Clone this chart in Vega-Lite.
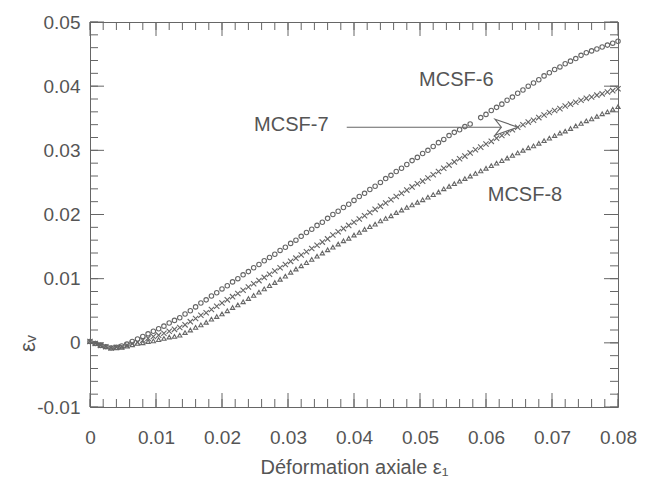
{
  "$schema": "https://vega.github.io/schema/vega-lite/v6.json",
  "width": 528,
  "height": 385,
  "autosize": {"type": "none"},
  "padding": {"left": 90, "top": 22, "right": 28, "bottom": 83},
  "background": "white",
  "config": {
    "font": "Liberation Sans",
    "view": {"stroke": "#666666", "strokeWidth": 1},
    "axis": {
      "domain": false,
      "grid": false,
      "ticks": false,
      "tickSize": 0,
      "labelColor": "#555555",
      "titleColor": "#555555",
      "labelFont": "Liberation Sans",
      "titleFont": "Liberation Sans",
      "labelFontSize": 19,
      "titleFontSize": 20,
      "titleFontWeight": "normal"
    }
  },
  "datasets": {
    "curves": [
      {"e": 0, "a": 0.0002, "b": 0.0002, "c": 0.0002},
      {"e": 0.0008, "a": -0.0001, "b": -0.0001, "c": -0.0001},
      {"e": 0.0016, "a": -0.0004, "b": -0.0004, "c": -0.0004},
      {"e": 0.0024, "a": -0.0006, "b": -0.0006, "c": -0.0006},
      {"e": 0.0032, "a": -0.0008, "b": -0.0008, "c": -0.0008},
      {"e": 0.004, "a": -0.0007, "b": -0.0007, "c": -0.0008},
      {"e": 0.0048, "a": -0.0005, "b": -0.0006, "c": -0.0007},
      {"e": 0.0056, "a": -0.0002, "b": -0.0004, "c": -0.0005},
      {"e": 0.0064, "a": 0.0002, "b": -0.0001, "c": -0.0003},
      {"e": 0.0072, "a": 0.0006, "b": 0.0001, "c": -0.0001},
      {"e": 0.008, "a": 0.001, "b": 0.0004, "c": 0},
      {"e": 0.0088, "a": 0.0014, "b": 0.0007, "c": 0.0002},
      {"e": 0.0096, "a": 0.0018, "b": 0.001, "c": 0.0003},
      {"e": 0.0104, "a": 0.0022, "b": 0.0012, "c": 0.0005},
      {"e": 0.0112, "a": 0.0026, "b": 0.0015, "c": 0.0007},
      {"e": 0.012, "a": 0.0031, "b": 0.0018, "c": 0.0009},
      {"e": 0.0128, "a": 0.0035, "b": 0.0021, "c": 0.001},
      {"e": 0.0136, "a": 0.0039, "b": 0.0024, "c": 0.0012},
      {"e": 0.0144, "a": 0.0045, "b": 0.0028, "c": 0.0016},
      {"e": 0.0152, "a": 0.005, "b": 0.0033, "c": 0.002},
      {"e": 0.016, "a": 0.0056, "b": 0.0038, "c": 0.0024},
      {"e": 0.0168, "a": 0.0062, "b": 0.0043, "c": 0.0028},
      {"e": 0.0176, "a": 0.0067, "b": 0.0047, "c": 0.0032},
      {"e": 0.0184, "a": 0.0073, "b": 0.0052, "c": 0.0037},
      {"e": 0.0192, "a": 0.0078, "b": 0.0057, "c": 0.0041},
      {"e": 0.02, "a": 0.0084, "b": 0.0062, "c": 0.0045},
      {"e": 0.0208, "a": 0.0089, "b": 0.0067, "c": 0.005},
      {"e": 0.0216, "a": 0.0095, "b": 0.0072, "c": 0.0055},
      {"e": 0.0224, "a": 0.01, "b": 0.0077, "c": 0.0059},
      {"e": 0.0232, "a": 0.0106, "b": 0.0082, "c": 0.0064},
      {"e": 0.024, "a": 0.0111, "b": 0.0087, "c": 0.0069},
      {"e": 0.0248, "a": 0.0117, "b": 0.0092, "c": 0.0074},
      {"e": 0.0256, "a": 0.0122, "b": 0.0097, "c": 0.0079},
      {"e": 0.0264, "a": 0.0128, "b": 0.0102, "c": 0.0084},
      {"e": 0.0272, "a": 0.0133, "b": 0.0107, "c": 0.0089},
      {"e": 0.028, "a": 0.0138, "b": 0.0112, "c": 0.0094},
      {"e": 0.0288, "a": 0.0144, "b": 0.0117, "c": 0.0099},
      {"e": 0.0296, "a": 0.0149, "b": 0.0122, "c": 0.0104},
      {"e": 0.0304, "a": 0.0155, "b": 0.0127, "c": 0.011},
      {"e": 0.0312, "a": 0.016, "b": 0.0132, "c": 0.0115},
      {"e": 0.032, "a": 0.0166, "b": 0.0137, "c": 0.012},
      {"e": 0.0328, "a": 0.0172, "b": 0.0142, "c": 0.0125},
      {"e": 0.0336, "a": 0.0177, "b": 0.0147, "c": 0.013},
      {"e": 0.0344, "a": 0.0183, "b": 0.0152, "c": 0.0135},
      {"e": 0.0352, "a": 0.0188, "b": 0.0157, "c": 0.014},
      {"e": 0.036, "a": 0.0194, "b": 0.0162, "c": 0.0145},
      {"e": 0.0368, "a": 0.02, "b": 0.0168, "c": 0.0149},
      {"e": 0.0376, "a": 0.0205, "b": 0.0173, "c": 0.0154},
      {"e": 0.0384, "a": 0.0211, "b": 0.0178, "c": 0.0159},
      {"e": 0.0392, "a": 0.0216, "b": 0.0183, "c": 0.0163},
      {"e": 0.04, "a": 0.0222, "b": 0.0188, "c": 0.0168},
      {"e": 0.0408, "a": 0.0228, "b": 0.0193, "c": 0.0172},
      {"e": 0.0416, "a": 0.0233, "b": 0.0198, "c": 0.0177},
      {"e": 0.0424, "a": 0.0239, "b": 0.0203, "c": 0.0181},
      {"e": 0.0432, "a": 0.0244, "b": 0.0208, "c": 0.0185},
      {"e": 0.044, "a": 0.025, "b": 0.0213, "c": 0.019},
      {"e": 0.0448, "a": 0.0256, "b": 0.0218, "c": 0.0194},
      {"e": 0.0456, "a": 0.0261, "b": 0.0223, "c": 0.0198},
      {"e": 0.0464, "a": 0.0267, "b": 0.0228, "c": 0.0203},
      {"e": 0.0472, "a": 0.0272, "b": 0.0233, "c": 0.0207},
      {"e": 0.048, "a": 0.0278, "b": 0.0238, "c": 0.0211},
      {"e": 0.0488, "a": 0.0284, "b": 0.0243, "c": 0.0215},
      {"e": 0.0496, "a": 0.0289, "b": 0.0248, "c": 0.0219},
      {"e": 0.0504, "a": 0.0295, "b": 0.0252, "c": 0.0223},
      {"e": 0.0512, "a": 0.03, "b": 0.0257, "c": 0.0227},
      {"e": 0.052, "a": 0.0306, "b": 0.0262, "c": 0.0231},
      {"e": 0.0528, "a": 0.0312, "b": 0.0267, "c": 0.0235},
      {"e": 0.0536, "a": 0.0317, "b": 0.0272, "c": 0.024},
      {"e": 0.0544, "a": 0.0323, "b": 0.0277, "c": 0.0244},
      {"e": 0.0552, "a": 0.0328, "b": 0.0282, "c": 0.0248},
      {"e": 0.056, "a": 0.0332, "b": 0.0287, "c": 0.0252},
      {"e": 0.0568, "a": 0.0337, "b": 0.0291, "c": 0.0256},
      {"e": 0.0576, "a": 0.0341, "b": 0.0296, "c": 0.026},
      {"e": 0.0584, "a": null, "b": 0.0301, "c": 0.0264},
      {"e": 0.0592, "a": 0.0351, "b": 0.0305, "c": 0.0268},
      {"e": 0.06, "a": 0.0356, "b": 0.031, "c": 0.0272},
      {"e": 0.0608, "a": 0.0362, "b": 0.0314, "c": 0.0276},
      {"e": 0.0616, "a": 0.0367, "b": 0.0319, "c": 0.028},
      {"e": 0.0624, "a": 0.0372, "b": 0.0323, "c": 0.0284},
      {"e": 0.0632, "a": 0.0378, "b": 0.0327, "c": 0.0288},
      {"e": 0.064, "a": 0.0383, "b": 0.0332, "c": 0.0292},
      {"e": 0.0648, "a": 0.0389, "b": 0.0336, "c": 0.0296},
      {"e": 0.0656, "a": 0.0394, "b": 0.034, "c": 0.03},
      {"e": 0.0664, "a": 0.04, "b": 0.0344, "c": 0.0304},
      {"e": 0.0672, "a": 0.0405, "b": 0.0347, "c": 0.0307},
      {"e": 0.068, "a": 0.041, "b": 0.0351, "c": 0.0311},
      {"e": 0.0688, "a": 0.0416, "b": 0.0355, "c": 0.0315},
      {"e": 0.0696, "a": 0.0421, "b": 0.0359, "c": 0.0319},
      {"e": 0.0704, "a": 0.0426, "b": 0.0362, "c": 0.0323},
      {"e": 0.0712, "a": 0.043, "b": 0.0365, "c": 0.0327},
      {"e": 0.072, "a": 0.0435, "b": 0.0369, "c": 0.033},
      {"e": 0.0728, "a": 0.0439, "b": 0.0372, "c": 0.0334},
      {"e": 0.0736, "a": 0.0443, "b": 0.0375, "c": 0.0338},
      {"e": 0.0744, "a": 0.0448, "b": 0.0378, "c": 0.0342},
      {"e": 0.0752, "a": 0.0452, "b": 0.0381, "c": 0.0346},
      {"e": 0.076, "a": 0.0455, "b": 0.0383, "c": 0.0349},
      {"e": 0.0768, "a": 0.0458, "b": 0.0386, "c": 0.0353},
      {"e": 0.0776, "a": 0.0461, "b": 0.0388, "c": 0.0357},
      {"e": 0.0784, "a": 0.0464, "b": 0.0391, "c": 0.036},
      {"e": 0.0792, "a": 0.0467, "b": 0.0393, "c": 0.0364},
      {"e": 0.08, "a": 0.047, "b": 0.0396, "c": 0.0368}
    ],
    "labels": [
      {"x": 0.0555, "y": 0.041, "t": "MCSF-6"},
      {"x": 0.0305, "y": 0.034, "t": "MCSF-7"},
      {"x": 0.0659, "y": 0.0231, "t": "MCSF-8"}
    ],
    "arrow": [
      {"x1": 0.0389, "x2": 0.0631, "y": 0.0336}
    ],
    "xt": [
      {"v": 0, "m": 1}, {"v": 0.002, "m": 0}, {"v": 0.004, "m": 0}, {"v": 0.006, "m": 0}, {"v": 0.008, "m": 0},
      {"v": 0.01, "m": 1}, {"v": 0.012, "m": 0}, {"v": 0.014, "m": 0}, {"v": 0.016, "m": 0}, {"v": 0.018, "m": 0},
      {"v": 0.02, "m": 1}, {"v": 0.022, "m": 0}, {"v": 0.024, "m": 0}, {"v": 0.026, "m": 0}, {"v": 0.028, "m": 0},
      {"v": 0.03, "m": 1}, {"v": 0.032, "m": 0}, {"v": 0.034, "m": 0}, {"v": 0.036, "m": 0}, {"v": 0.038, "m": 0},
      {"v": 0.04, "m": 1}, {"v": 0.042, "m": 0}, {"v": 0.044, "m": 0}, {"v": 0.046, "m": 0}, {"v": 0.048, "m": 0},
      {"v": 0.05, "m": 1}, {"v": 0.052, "m": 0}, {"v": 0.054, "m": 0}, {"v": 0.056, "m": 0}, {"v": 0.058, "m": 0},
      {"v": 0.06, "m": 1}, {"v": 0.062, "m": 0}, {"v": 0.064, "m": 0}, {"v": 0.066, "m": 0}, {"v": 0.068, "m": 0},
      {"v": 0.07, "m": 1}, {"v": 0.072, "m": 0}, {"v": 0.074, "m": 0}, {"v": 0.076, "m": 0}, {"v": 0.078, "m": 0},
      {"v": 0.08, "m": 1}
    ],
    "yt": [
      {"v": -0.01, "m": 1}, {"v": -0.008, "m": 0}, {"v": -0.006, "m": 0}, {"v": -0.004, "m": 0}, {"v": -0.002, "m": 0},
      {"v": 0, "m": 1}, {"v": 0.002, "m": 0}, {"v": 0.004, "m": 0}, {"v": 0.006, "m": 0}, {"v": 0.008, "m": 0},
      {"v": 0.01, "m": 1}, {"v": 0.012, "m": 0}, {"v": 0.014, "m": 0}, {"v": 0.016, "m": 0}, {"v": 0.018, "m": 0},
      {"v": 0.02, "m": 1}, {"v": 0.022, "m": 0}, {"v": 0.024, "m": 0}, {"v": 0.026, "m": 0}, {"v": 0.028, "m": 0},
      {"v": 0.03, "m": 1}, {"v": 0.032, "m": 0}, {"v": 0.034, "m": 0}, {"v": 0.036, "m": 0}, {"v": 0.038, "m": 0},
      {"v": 0.04, "m": 1}, {"v": 0.042, "m": 0}, {"v": 0.044, "m": 0}, {"v": 0.046, "m": 0}, {"v": 0.048, "m": 0},
      {"v": 0.05, "m": 1}
    ]
  },
  "resolve": {"axis": {"x": "independent", "y": "independent"}},
  "layer": [
    {
      "data": {"name": "curves"},
      "mark": {"type": "point", "shape": "circle", "filled": false, "stroke": "#666666", "strokeWidth": 1.1, "size": 20, "opacity": 1},
      "encoding": {
        "x": {
          "field": "e", "type": "quantitative",
          "scale": {"domain": [0, 0.08], "nice": false, "zero": false},
          "axis": {
            "orient": "bottom",
            "values": [0, 0.01, 0.02, 0.03, 0.04, 0.05, 0.06, 0.07, 0.08],
            "labelExpr": "datum.value == 0 ? '0' : format(datum.value, '.2f')",
            "labelPadding": 21,
            "labelFlush": false,
            "title": "Déformation axiale  ε₁",
            "titleX": 264,
            "titleY": 60,
            "titleAnchor": null,
            "titleBaseline": "middle",
            "titleAlign": "center"
          }
        },
        "y": {
          "field": "a", "type": "quantitative",
          "scale": {"domain": [-0.01, 0.05], "nice": false, "zero": false},
          "axis": {
            "orient": "left",
            "values": [-0.01, 0, 0.01, 0.02, 0.03, 0.04, 0.05],
            "labelExpr": "datum.value == 0 ? '0' : (datum.value < 0 ? '-' : '') + format(abs(datum.value), '.2f')",
            "labelPadding": 10,
            "labelFlush": false,
            "title": "εᵥ",
            "titleFontSize": 22,
            "titleX": -63,
            "titleY": 321,
            "titleAngle": -90,
            "titleBaseline": "middle",
            "titleAlign": "center"
          }
        }
      }
    },
    {
      "data": {"name": "curves"},
      "mark": {"type": "point", "shape": "M-1,-1L1,1M-1,1L1,-1", "filled": false, "stroke": "#666666", "strokeWidth": 1.1, "size": 28, "opacity": 1},
      "encoding": {
        "x": {"field": "e", "type": "quantitative", "axis": null},
        "y": {"field": "b", "type": "quantitative", "axis": null}
      }
    },
    {
      "data": {"name": "curves"},
      "mark": {"type": "point", "shape": "triangle-up", "filled": false, "stroke": "#666666", "strokeWidth": 1.1, "size": 18, "opacity": 1},
      "encoding": {
        "x": {"field": "e", "type": "quantitative", "axis": null},
        "y": {"field": "c", "type": "quantitative", "axis": null}
      }
    },
    {
      "data": {"name": "xt"},
      "mark": {"type": "rule", "stroke": "#666666", "strokeWidth": 1, "y2Offset": -8},
      "encoding": {
        "x": {"field": "v", "type": "quantitative", "axis": null},
        "y": {"datum": -0.01, "type": "quantitative", "axis": null},
        "y2": {"datum": -0.01}
      }
    },
    {
      "data": {"name": "xt"},
      "transform": [{"filter": "datum.m == 1"}],
      "mark": {"type": "rule", "stroke": "#666666", "strokeWidth": 1, "y2Offset": -14},
      "encoding": {
        "x": {"field": "v", "type": "quantitative", "axis": null},
        "y": {"datum": -0.01, "type": "quantitative", "axis": null},
        "y2": {"datum": -0.01}
      }
    },
    {
      "data": {"name": "xt"},
      "mark": {"type": "rule", "stroke": "#666666", "strokeWidth": 1, "y2Offset": 8},
      "encoding": {
        "x": {"field": "v", "type": "quantitative", "axis": null},
        "y": {"datum": 0.05, "type": "quantitative", "axis": null},
        "y2": {"datum": 0.05}
      }
    },
    {
      "data": {"name": "xt"},
      "transform": [{"filter": "datum.m == 1"}],
      "mark": {"type": "rule", "stroke": "#666666", "strokeWidth": 1, "y2Offset": 14},
      "encoding": {
        "x": {"field": "v", "type": "quantitative", "axis": null},
        "y": {"datum": 0.05, "type": "quantitative", "axis": null},
        "y2": {"datum": 0.05}
      }
    },
    {
      "data": {"name": "yt"},
      "mark": {"type": "rule", "stroke": "#666666", "strokeWidth": 1, "x2Offset": 8},
      "encoding": {
        "y": {"field": "v", "type": "quantitative", "axis": null},
        "x": {"datum": 0, "type": "quantitative", "axis": null},
        "x2": {"datum": 0}
      }
    },
    {
      "data": {"name": "yt"},
      "transform": [{"filter": "datum.m == 1"}],
      "mark": {"type": "rule", "stroke": "#666666", "strokeWidth": 1, "x2Offset": 14},
      "encoding": {
        "y": {"field": "v", "type": "quantitative", "axis": null},
        "x": {"datum": 0, "type": "quantitative", "axis": null},
        "x2": {"datum": 0}
      }
    },
    {
      "data": {"name": "yt"},
      "mark": {"type": "rule", "stroke": "#666666", "strokeWidth": 1, "x2Offset": -8},
      "encoding": {
        "y": {"field": "v", "type": "quantitative", "axis": null},
        "x": {"datum": 0.08, "type": "quantitative", "axis": null},
        "x2": {"datum": 0.08}
      }
    },
    {
      "data": {"name": "yt"},
      "transform": [{"filter": "datum.m == 1"}],
      "mark": {"type": "rule", "stroke": "#666666", "strokeWidth": 1, "x2Offset": -14},
      "encoding": {
        "y": {"field": "v", "type": "quantitative", "axis": null},
        "x": {"datum": 0.08, "type": "quantitative", "axis": null},
        "x2": {"datum": 0.08}
      }
    },
    {
      "data": {"name": "arrow"},
      "mark": {"type": "rule", "stroke": "#666666", "strokeWidth": 1.2},
      "encoding": {
        "x": {"field": "x1", "type": "quantitative", "axis": null},
        "x2": {"field": "x2"},
        "y": {"field": "y", "type": "quantitative", "axis": null}
      }
    },
    {
      "data": {"name": "arrow"},
      "mark": {"type": "point", "shape": "M-1,-0.7L1,0L-1,0.7L-0.45,0Z", "filled": true, "fill": "white", "stroke": "#666666", "strokeWidth": 1.2, "size": 520, "opacity": 1},
      "encoding": {
        "x": {"field": "x2", "type": "quantitative", "axis": null},
        "y": {"field": "y", "type": "quantitative", "axis": null}
      }
    },
    {
      "data": {"name": "labels"},
      "mark": {"type": "text", "font": "Liberation Sans", "fontSize": 20, "fill": "#555555", "align": "center", "baseline": "middle"},
      "encoding": {
        "x": {"field": "x", "type": "quantitative", "axis": null},
        "y": {"field": "y", "type": "quantitative", "axis": null},
        "text": {"field": "t"}
      }
    }
  ]
}
